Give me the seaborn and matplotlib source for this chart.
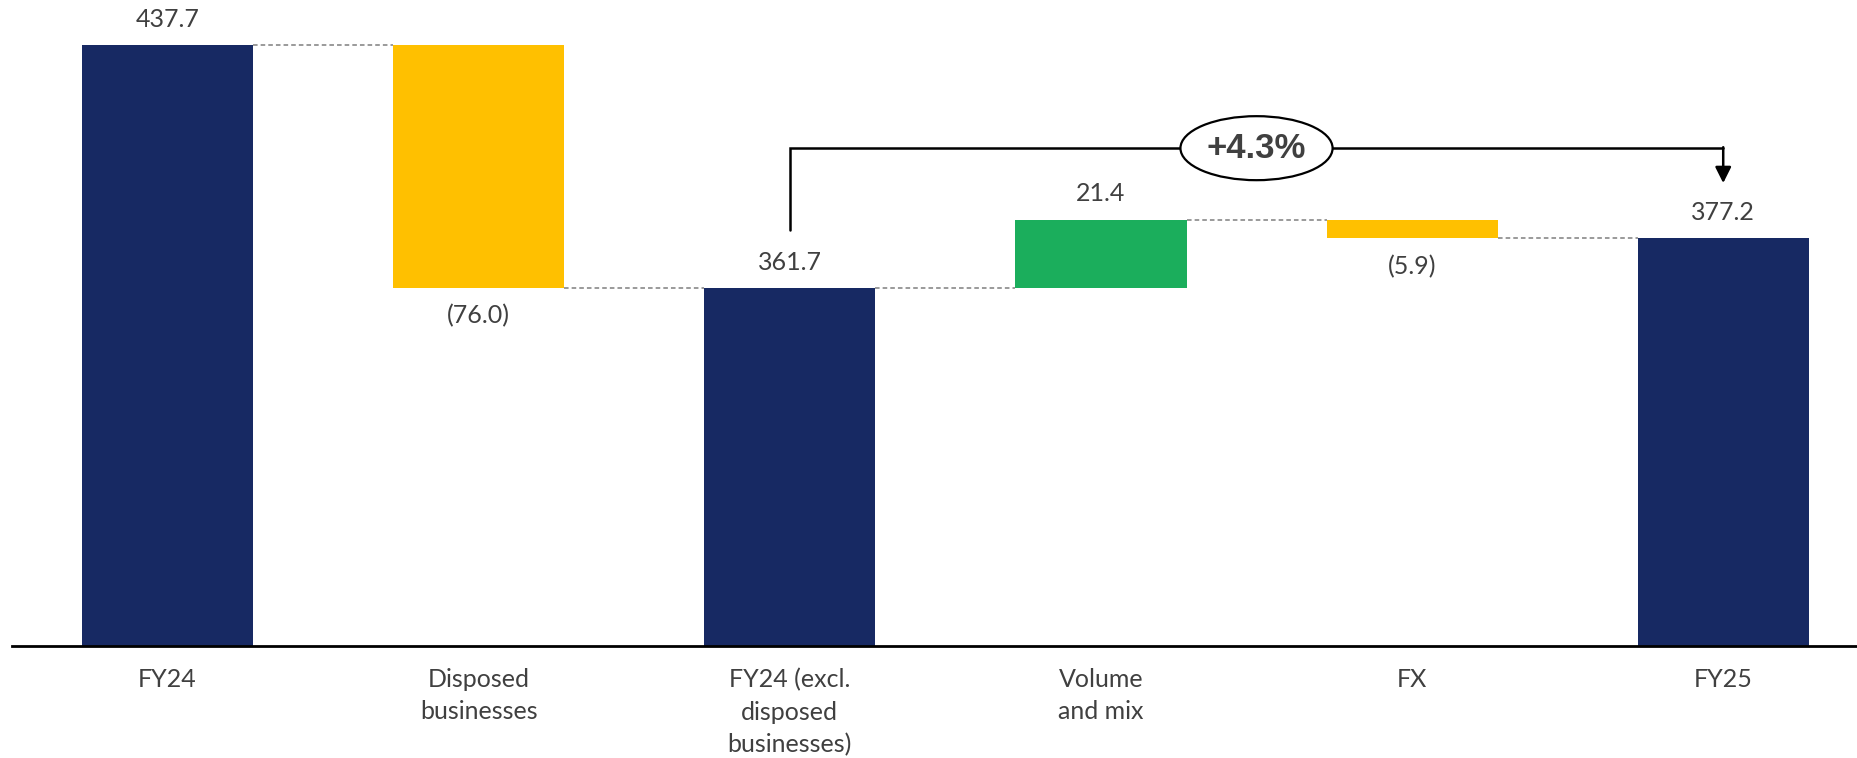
import matplotlib
matplotlib.use("Agg")
import matplotlib.pyplot as plt
from matplotlib.patches import Ellipse
import seaborn as sns
import numpy as np

categories = ["FY24", "Disposed\nbusinesses", "FY24 (excl.\ndisposed\nbusinesses)",
              "Volume\nand mix", "FX", "FY25"]
values = [437.7, -76.0, 361.7, 21.4, -5.9, 377.2]
kinds = ["total", "delta", "total", "delta", "delta", "total"]
growth_label = "+4.3%"

NAVY = "#172963"
YELLOW = "#FFC000"
GREEN = "#1BAE5C"
TXT = "#404040"

# waterfall geometry
bottoms, heights, colors, tops = [], [], [], []
level = 0.0
for v, k in zip(values, kinds):
    if k == "total":
        bottoms.append(0.0); heights.append(v); colors.append(NAVY)
        level = v
    else:
        lo = min(level, level + v)
        bottoms.append(lo); heights.append(abs(v))
        colors.append(GREEN if v > 0 else YELLOW)
        level = level + v
    tops.append(level)

sns.set_theme(style="white")
plt.rcParams["font.family"] = ["Lato", "DejaVu Sans"]

fig = plt.figure(figsize=(18.57, 7.58), dpi=100)
ax = fig.add_axes([12 / 1857, 112.5 / 758, 1 - 12 / 1857, 645.5 / 758])

bw = 0.55
sns.barplot(x=categories, y=heights, width=bw, ax=ax, color=NAVY, saturation=1)
for p, b, c in zip(ax.patches, bottoms, colors):
    p.set_y(b)
    p.set_facecolor(c)
    p.set_edgecolor("none")

ax.set_xlim(-0.5, 5.43)
ax.set_ylim(250, 451.7)

# connectors
for i in range(len(values) - 1):
    ax.plot([i + bw / 2, i + 1 - bw / 2], [tops[i], tops[i]], ls=(0, (3, 2)),
            color="#7f7f7f", lw=1.1, zorder=1)

# value labels
for i, (v, k) in enumerate(zip(values, kinds)):
    txt = f"{v:.1f}" if v >= 0 else f"({abs(v):.1f})"
    if k == "total" or v > 0:
        y = bottoms[i] + heights[i]
        off = 18.5
    else:
        y = bottoms[i]
        off = -20
    ax.annotate(txt, (i, y), xytext=(0, off), textcoords="offset points",
                ha="center", va="center", fontsize=18, color=TXT)

# bracket
yb = 405.4
ax.plot([2, 2, 5], [379.7, yb, yb], color="black", lw=1.8, zorder=3,
        solid_joinstyle="miter")
ax.annotate("", xy=(5, 394.5), xytext=(5, yb + 0.3),
            arrowprops=dict(arrowstyle="-|>", color="black", lw=1.8,
                            mutation_scale=24, shrinkA=0, shrinkB=0), zorder=3)
ax.add_patch(Ellipse((3.5, yb), 0.489, 20, facecolor="white", edgecolor="black",
                     lw=1.6, zorder=4))
ax.text(3.5, yb, growth_label, ha="center", va="center", fontsize=25,
        fontweight="bold", color=TXT, family=["Liberation Sans", "DejaVu Sans"],
        zorder=5)

for s in ["left", "right", "top"]:
    ax.spines[s].set_visible(False)
ax.spines["bottom"].set_color("black")
ax.spines["bottom"].set_linewidth(2)
ax.set_yticks([])
ax.set_ylabel("")
ax.tick_params(axis="x", length=0, pad=16, labelsize=18, labelcolor=TXT)
for t in ax.get_xticklabels():
    t.set_linespacing(1.5)
    t.set_verticalalignment("top")

fig.savefig("out.png", dpi=100)
